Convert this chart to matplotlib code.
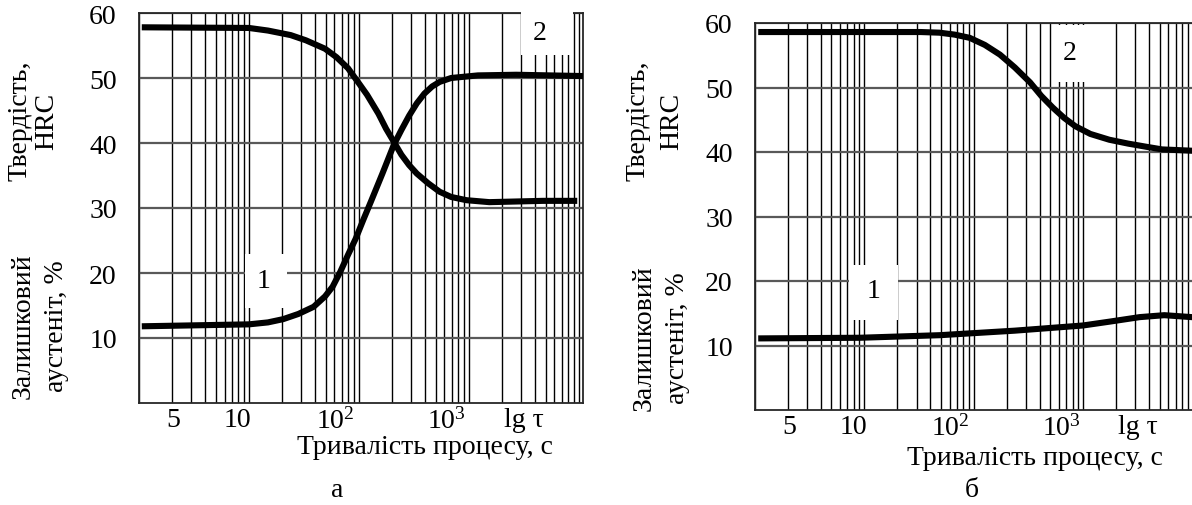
import numpy as np
import matplotlib
matplotlib.use('Agg')
import matplotlib.pyplot as plt
from matplotlib.patches import Rectangle
from matplotlib.ticker import LogLocator, NullFormatter

plt.rcParams['font.family'] = ['Liberation Serif', 'DejaVu Serif']
plt.rcParams['mathtext.fontset'] = 'custom'
plt.rcParams['mathtext.rm'] = 'Liberation Serif'

##########
# Data   #
##########

# x is read on the log paper (1 ... 10^4), y in the common HRC / % scale
xtick_pos = [2.05, 7.85, 61, 630, 3160]
xtick_lab = ['5', '10', r'$\mathrm{10^2}$', r'$\mathrm{10^3}$', 'lg τ']
ytick_pos = [10, 20, 30, 40, 50, 60]

# panel a: curve rising from ~12 to ~50
a_rise_x = [1.06, 10, 14.9, 20.5, 28.2, 38.8, 49.3, 57.8, 67.9, 79.8, 93.8, 110, 129,
            164, 208, 244, 287, 337, 395, 465, 544, 692, 1213, 2700, 10960]
a_rise_y = [11.8, 12.1, 12.4, 12.9, 13.7, 14.8, 16.4, 17.9, 20.2, 22.8, 25.3, 28.2, 31.0,
            35.3, 39.7, 42.0, 44.2, 46.1, 47.6, 48.7, 49.4, 50.0, 50.4, 50.5, 50.3]
# panel a: curve falling from ~58 to ~31
a_fall_x = [1.06, 10, 14.9, 24.0, 33.0, 49.3, 62.7, 79.8, 101, 119, 151, 177, 208, 244,
            287, 337, 428, 544, 692, 955, 1540, 2700, 4730, 9720]
a_fall_y = [57.8, 57.7, 57.3, 56.6, 55.8, 54.5, 53.2, 51.5, 49.1, 47.4, 44.5, 42.2, 40.2, 38.2,
            36.6, 35.3, 33.8, 32.5, 31.7, 31.2, 30.9, 31.0, 31.1, 31.1]

# panel b: hardness
b_hrc_x = [1.07, 32.7, 48.5, 66.7, 91.6, 126, 173, 237, 326, 413, 525, 667, 845,
           1160, 1730, 2570, 3800, 5250, 9770, 11500]
b_hrc_y = [58.6, 58.6, 58.5, 58.2, 57.7, 56.6, 55.1, 53.1, 50.8, 48.7, 46.9, 45.3, 44.0,
           42.8, 41.9, 41.3, 40.8, 40.4, 40.2, 40.2]
# panel b: retained austenite
b_aus_x = [1.07, 9.1, 49, 236, 990, 1740, 3280, 5500, 9800, 11500]
b_aus_y = [11.1, 11.2, 11.6, 12.3, 13.1, 13.7, 14.4, 14.7, 14.4, 14.3]

W, H = 1192., 506.
FS = 20
fig = plt.figure(figsize=(W/100, H/100), dpi=100)

def px_axes(l, r, t, b):
  return fig.add_axes([l/W, 1-b/H, (r-l)/W, (b-t)/H])

def setup(ax, xmax):
  ax.set_xscale('log')
  ax.set_xlim(1, xmax)
  ax.set_ylim(0, 60)
  ax.set_xticks(xtick_pos)
  ax.set_xticklabels(xtick_lab)
  ax.xaxis.set_minor_locator(LogLocator(base=10, subs=np.arange(1, 10), numticks=60))
  ax.xaxis.set_minor_formatter(NullFormatter())
  ax.set_yticks(ytick_pos)
  ax.tick_params(axis='both', which='both', length=0, labelsize=FS)
  ax.tick_params(axis='x', pad=3)
  ax.tick_params(axis='y', pad=16)
  ax.grid(False)
  ax.grid(True, which='minor', axis='x', color='k', lw=1.0, zorder=1)
  ax.grid(True, which='major', axis='y', color='0.35', lw=1.6, zorder=1)
  for s in ax.spines.values():
    s.set_linewidth(1.3)
    s.set_color('0.15')

def white_box(ax, x0, x1, y0, y1):
  ax.add_patch(Rectangle((x0, y0), x1-x0, y1-y0, transform=ax.transData,
                         facecolor='white', edgecolor='none', zorder=2.6, clip_on=False))

lw = 4.4
kw = dict(color='k', lw=lw, solid_joinstyle='round', solid_capstyle='butt', zorder=4)

# Panel a
ax = px_axes(139, 583, 14, 404)
setup(ax, 10**4.04)
white_box(ax, 9.2, 22.3, 14.6, 23.0)
white_box(ax, 2985, 8900, 53.5, 61.5)
ax.plot(a_rise_x, a_rise_y, **kw)
ax.plot(a_fall_x, a_fall_y, **kw)
ax.text(13.6, 18.9, '1', fontsize=FS, ha='center', va='center', zorder=5)
ax.text(4400, 57.0, '2', fontsize=FS, ha='center', va='center', zorder=5)

# Panel b
ax2 = px_axes(755, 1196, 24, 411)
setup(ax2, 10**4.03)
ax2.spines['right'].set_visible(False)
white_box(ax2, 7.2, 20.2, 14.0, 22.5)
white_box(ax2, 525, 1075, 50.8, 59.7)
ax2.plot(b_hrc_x, b_hrc_y, **kw)
ax2.plot(b_aus_x, b_aus_y, **kw)
ax2.text(12.2, 18.5, '1', fontsize=FS, ha='center', va='center', zorder=5)
ax2.text(753, 55.4, '2', fontsize=FS, ha='center', va='center', zorder=5)

# Labels
def ftext(x, y, s, **kw):
  fig.text(x/W, 1-y/H, s, ha='center', va='center', fontsize=FS, **kw)

ftext(33, 121, 'Твердість,\nHRC', rotation=90, linespacing=1.1)
ftext(40, 326, 'Залишковий\nаустеніт, %', rotation=90, linespacing=1.45)
ftext(425, 448, 'Тривалість процесу, с')
ftext(337, 491, 'а')

ftext(655, 121, 'Твердість,\nHRC', rotation=90, linespacing=1.45)
ftext(661, 338, 'Залишковий\nаустеніт, %', rotation=90, linespacing=1.45)
ftext(1035, 459, 'Тривалість процесу, с')
ftext(972, 491, 'б')

plt.savefig('out.png', dpi=100)
plt.close()
